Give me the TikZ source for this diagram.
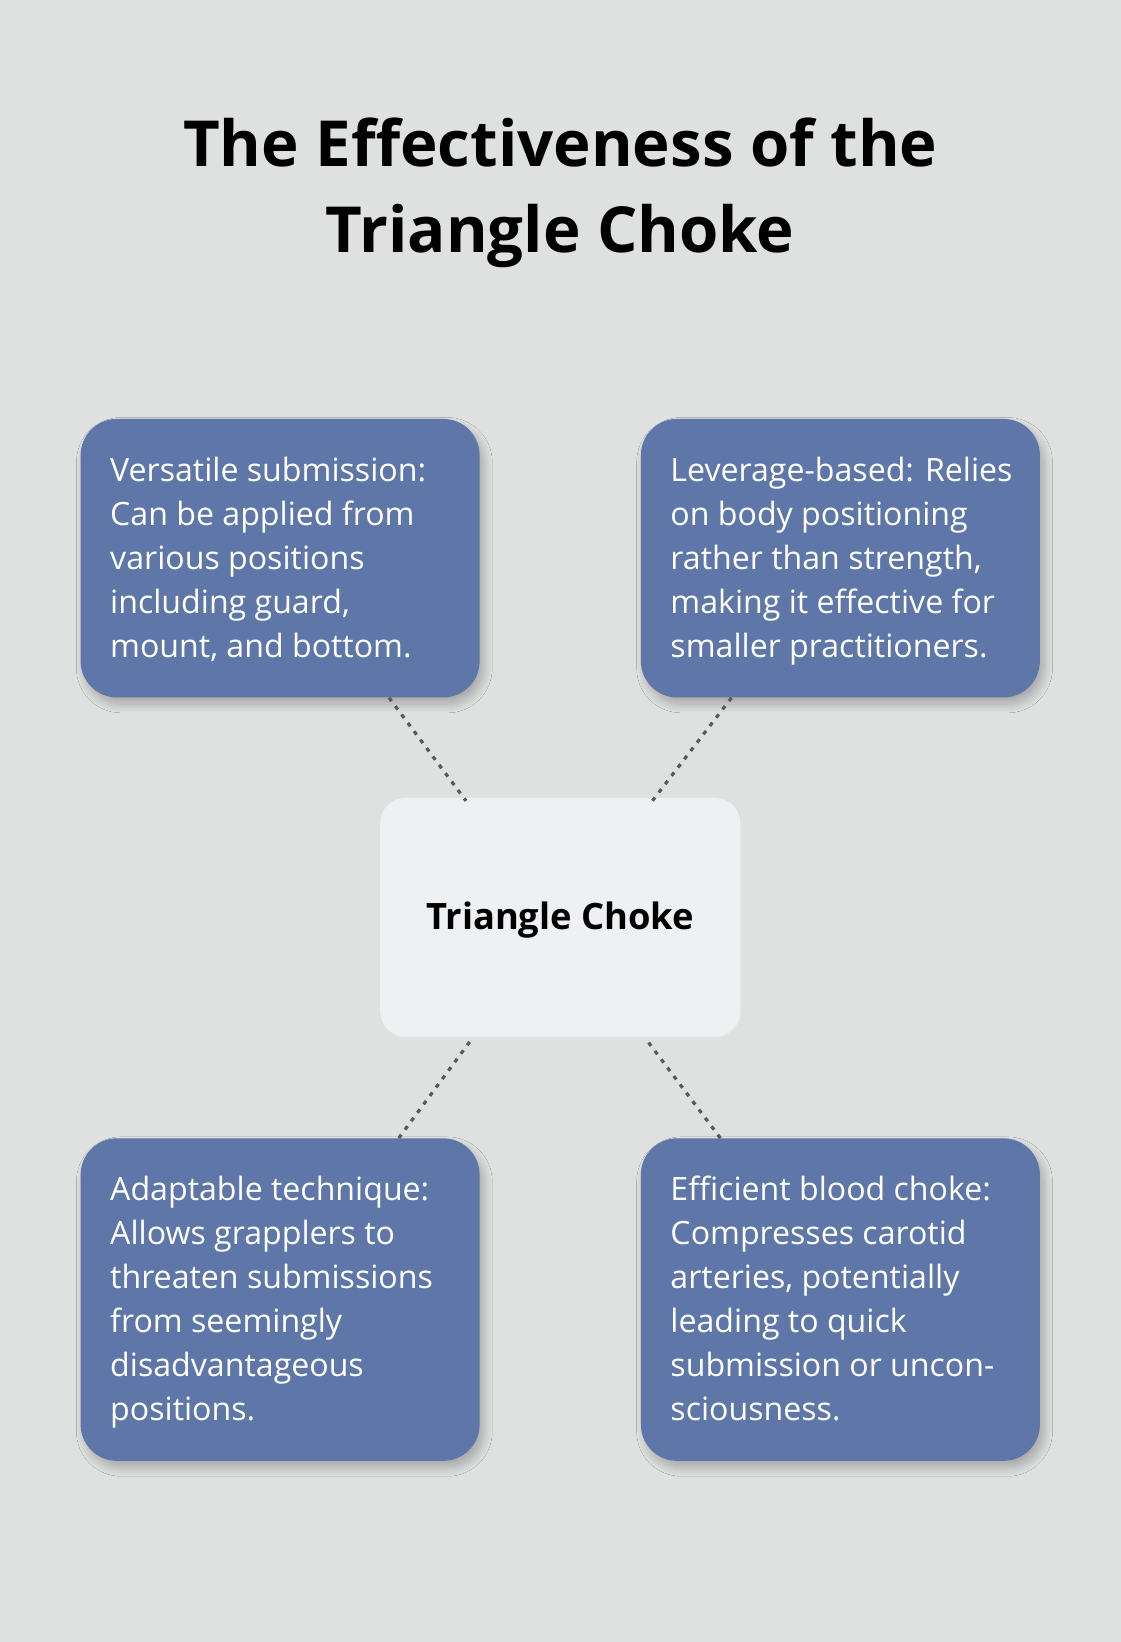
\documentclass[tikz,border=0pt]{standalone}
\usepackage{fontspec}
\setmainfont{Open Sans}
\usetikzlibrary{shadows.blur}
\definecolor{bg}{HTML}{DFE0E0}
\definecolor{boxb}{HTML}{5E77A8}
\definecolor{boxc}{HTML}{EFF0F2}
\tikzset{
 card/.style={fill=boxb, rounded corners=26pt, blur shadow={shadow xshift=3pt, shadow yshift=-5pt, shadow blur radius=6pt, shadow blur steps=14, shadow opacity=25}},
 cardc/.style={fill=boxc, rounded corners=18pt},
 txt/.style={anchor=north west, inner sep=0pt, align=left, text=white, font=\fontsize{23pt}{31.5pt}\selectfont},
 dots/.style={draw=black!65, line width=2.3pt, dash pattern=on 3pt off 4.5pt}
}
\begin{document}
\begin{tikzpicture}[x=0.75pt,y=-0.75pt]
\fill[bg] (0,0) rectangle (1070,1568);
\useasboundingbox (0,0) rectangle (1070,1568);
\node[font=\bfseries\fontsize{45.5pt}{62pt}\selectfont, align=center] (title) at (535,184) {The Effectiveness of the\\Triangle Choke};
\path[card] (77,400) rectangle (458,666);
\path[card] (612,400) rectangle (993,666);
\path[card] (77,1087) rectangle (458,1395);
\path[card] (612,1087) rectangle (993,1395);
\path[cardc] (363,762) rectangle (707,990);
\node[inner sep=0, minimum width=381*0.75pt, minimum height=266*0.75pt] (tl) at (267.5,533) {};
\node[inner sep=0, minimum width=381*0.75pt, minimum height=266*0.75pt] (tr) at (802.5,533) {};
\node[inner sep=0, minimum width=381*0.75pt, minimum height=308*0.75pt] (bl) at (267.5,1241) {};
\node[inner sep=0, minimum width=381*0.75pt, minimum height=308*0.75pt] (br) at (802.5,1241) {};
\node[inner sep=0, minimum width=344*0.75pt, minimum height=228*0.75pt, font=\bfseries\fontsize{26pt}{30pt}\selectfont] (c) at (535,879) {Triangle Choke};
\node[txt] at (105,436) {Versatile submission:\\Can be applied from\\various positions\\including guard,\\mount, and bottom.};
\node[txt] at (640,436) {Leverage-based: Relies\\on body positioning\\rather than strength,\\making it effective for\\smaller practitioners.};
\node[txt] at (105,1123) {Adaptable technique:\\Allows grapplers to\\threaten submissions\\from seemingly\\disadvantageous\\positions.};
\node[txt] at (640,1123) {Efficient blood choke:\\Compresses carotid\\arteries, potentially\\leading to quick\\submission or uncon-\\sciousness.};
\draw[dots] ([xshift=78pt]tl.south) -- ([xshift=-67.5pt]c.north);
\draw[dots] ([xshift=-78pt]tr.south) -- ([xshift=66pt]c.north);
\draw[dots] ([xshift=85pt]bl.north) -- ([xshift=-64pt]c.south);
\draw[dots] ([xshift=-86pt]br.north) -- ([xshift=62pt]c.south);
\end{tikzpicture}
\end{document}
